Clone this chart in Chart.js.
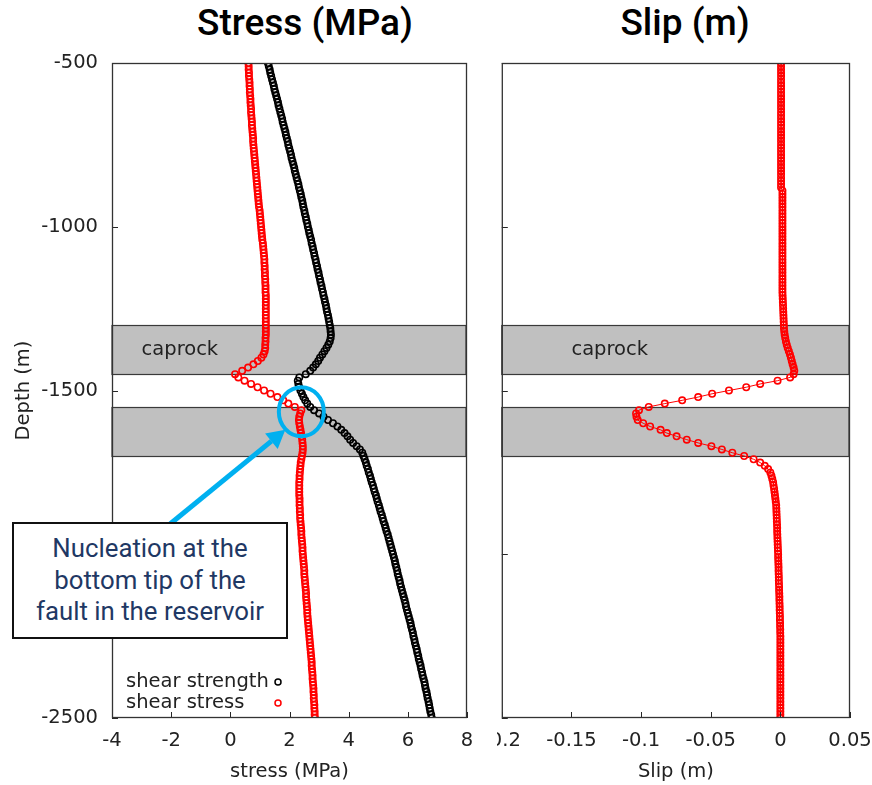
<!DOCTYPE html>
<html>
<head>
<meta charset="utf-8">
<script src="https://cdn.jsdelivr.net/npm/chart.js@4.4.1/dist/chart.umd.min.js"></script>
<style>
    body { margin: 0; width: 872px; height: 785px; position: relative; overflow: hidden; background: #fff; }
    canvas { position: absolute; top: 0; }
    #stress-chart { left: 0; }
    #slip-chart { left: 497px; }
    .heading { position: absolute; top: 4px; font: 500 37px Roboto; color: #000; transform: translateX(-50%); white-space: nowrap; line-height: 37px; }
    #note {
        position: absolute; left: 12px; top: 522px; width: 276px; height: 117px; box-sizing: border-box;
        border: 2px solid #111; background: #fff; display: flex; align-items: center; justify-content: center;
        text-align: center; font: 400 25.8px Roboto; line-height: 31.5px; color: #1f3864;
    }
</style>
</head>
<body>
<div class="heading" style="left:305px">Stress (MPa)</div>
<div class="heading" style="left:685px">Slip (m)</div>
<canvas id="stress-chart" width="480" height="785"></canvas>
<canvas id="slip-chart" width="375" height="785"></canvas>
<div id="note">Nucleation at the<br>bottom tip of the<br>fault in the reservoir</div>

<script>
// depth along the fault (m), one sample every 10 m
const depth = [
    -500, -510, -520, -530, -540, -550, -560, -570, -580, -590,
    -600, -610, -620, -630, -640, -650, -660, -670, -680, -690,
    -700, -710, -720, -730, -740, -750, -760, -770, -780, -790,
    -800, -810, -820, -830, -840, -850, -860, -870, -880, -890,
    -900, -910, -920, -930, -940, -950, -960, -970, -980, -990,
    -1000, -1010, -1020, -1030, -1040, -1050, -1060, -1070, -1080, -1090,
    -1100, -1110, -1120, -1130, -1140, -1150, -1160, -1170, -1180, -1190,
    -1200, -1210, -1220, -1230, -1240, -1250, -1260, -1270, -1280, -1290,
    -1300, -1310, -1320, -1330, -1340, -1350, -1360, -1370, -1380, -1390,
    -1400, -1410, -1420, -1430, -1440, -1450, -1460, -1470, -1480, -1490,
    -1500, -1510, -1520, -1530, -1540, -1550, -1560, -1570, -1580, -1590,
    -1600, -1610, -1620, -1630, -1640, -1650, -1660, -1670, -1680, -1690,
    -1700, -1710, -1720, -1730, -1740, -1750, -1760, -1770, -1780, -1790,
    -1800, -1810, -1820, -1830, -1840, -1850, -1860, -1870, -1880, -1890,
    -1900, -1910, -1920, -1930, -1940, -1950, -1960, -1970, -1980, -1990,
    -2000, -2010, -2020, -2030, -2040, -2050, -2060, -2070, -2080, -2090,
    -2100, -2110, -2120, -2130, -2140, -2150, -2160, -2170, -2180, -2190,
    -2200, -2210, -2220, -2230, -2240, -2250, -2260, -2270, -2280, -2290,
    -2300, -2310, -2320, -2330, -2340, -2350, -2360, -2370, -2380, -2390,
    -2400, -2410, -2420, -2430, -2440, -2450, -2460, -2470, -2480, -2490,
    -2500
];

// shear strength (MPa)
const shearStrength = [
    1.27, 1.30, 1.33, 1.35, 1.38, 1.41, 1.44, 1.47, 1.49, 1.52,
    1.55, 1.58, 1.61, 1.63, 1.66, 1.69, 1.72, 1.75, 1.77, 1.80,
    1.83, 1.86, 1.88, 1.91, 1.94, 1.96, 1.99, 2.02, 2.05, 2.07,
    2.10, 2.13, 2.16, 2.18, 2.21, 2.24, 2.27, 2.30, 2.32, 2.35,
    2.38, 2.40, 2.43, 2.45, 2.47, 2.50, 2.52, 2.55, 2.57, 2.60,
    2.62, 2.65, 2.67, 2.70, 2.73, 2.75, 2.78, 2.80, 2.83, 2.85,
    2.88, 2.90, 2.93, 2.95, 2.98, 3.00, 3.03, 3.05, 3.08, 3.10,
    3.13, 3.15, 3.18, 3.20, 3.23, 3.25, 3.27, 3.30, 3.32, 3.34,
    3.36, 3.38, 3.39, 3.40, 3.39, 3.36, 3.31, 3.25, 3.18, 3.11,
    3.03, 2.97, 2.89, 2.80, 2.70, 2.55, 2.33, 2.28, 2.30, 2.33,
    2.37, 2.42, 2.47, 2.53, 2.60, 2.70, 2.83, 3.00, 3.15, 3.30,
    3.47, 3.62, 3.75, 3.86, 3.96, 4.05, 4.15, 4.27, 4.38, 4.46,
    4.50, 4.54, 4.58, 4.61, 4.65, 4.68, 4.72, 4.75, 4.78, 4.82,
    4.85, 4.88, 4.92, 4.95, 4.98, 5.02, 5.05, 5.08, 5.12, 5.15,
    5.18, 5.22, 5.25, 5.28, 5.32, 5.35, 5.38, 5.41, 5.44, 5.47,
    5.50, 5.53, 5.56, 5.58, 5.61, 5.64, 5.66, 5.69, 5.72, 5.74,
    5.77, 5.80, 5.83, 5.86, 5.89, 5.92, 5.94, 5.97, 6.00, 6.03,
    6.06, 6.09, 6.11, 6.14, 6.17, 6.19, 6.22, 6.24, 6.27, 6.30,
    6.32, 6.35, 6.37, 6.40, 6.43, 6.45, 6.48, 6.50, 6.53, 6.56,
    6.58, 6.60, 6.63, 6.65, 6.67, 6.70, 6.72, 6.74, 6.76, 6.79,
    6.81
];

// shear stress (MPa)
const shearStress = [
    0.61, 0.62, 0.62, 0.63, 0.63, 0.64, 0.65, 0.65, 0.66, 0.66,
    0.67, 0.68, 0.68, 0.69, 0.70, 0.70, 0.71, 0.72, 0.73, 0.73,
    0.74, 0.75, 0.76, 0.77, 0.77, 0.78, 0.79, 0.80, 0.81, 0.82,
    0.83, 0.84, 0.85, 0.86, 0.87, 0.88, 0.89, 0.90, 0.91, 0.92,
    0.93, 0.94, 0.95, 0.96, 0.97, 0.99, 1.00, 1.01, 1.02, 1.03,
    1.04, 1.05, 1.06, 1.07, 1.08, 1.10, 1.11, 1.12, 1.13, 1.14,
    1.15, 1.15, 1.16, 1.16, 1.17, 1.17, 1.18, 1.18, 1.19, 1.19,
    1.19, 1.20, 1.20, 1.20, 1.20, 1.20, 1.20, 1.20, 1.20, 1.20,
    1.20, 1.20, 1.20, 1.20, 1.19, 1.19, 1.18, 1.18, 1.16, 1.12,
    1.05, 0.93, 0.78, 0.60, 0.40, 0.16, 0.27, 0.48, 0.70, 0.92,
    1.14, 1.36, 1.59, 1.79, 1.96, 2.18, 2.40, 2.36, 2.33, 2.32,
    2.33, 2.35, 2.37, 2.39, 2.41, 2.43, 2.44, 2.45, 2.45, 2.44,
    2.42, 2.40, 2.38, 2.37, 2.36, 2.35, 2.34, 2.34, 2.33, 2.33,
    2.33, 2.33, 2.33, 2.34, 2.34, 2.34, 2.35, 2.35, 2.36, 2.36,
    2.37, 2.38, 2.39, 2.40, 2.40, 2.41, 2.42, 2.43, 2.44, 2.44,
    2.45, 2.46, 2.47, 2.48, 2.49, 2.50, 2.50, 2.51, 2.52, 2.53,
    2.54, 2.55, 2.56, 2.56, 2.57, 2.58, 2.59, 2.60, 2.60, 2.61,
    2.62, 2.63, 2.64, 2.65, 2.66, 2.67, 2.68, 2.69, 2.70, 2.71,
    2.72, 2.73, 2.74, 2.75, 2.75, 2.76, 2.77, 2.78, 2.78, 2.79,
    2.80, 2.81, 2.81, 2.82, 2.82, 2.83, 2.84, 2.84, 2.85, 2.85,
    2.86
];

// slip (m)
const slip = [
    0.0005, 0.0005, 0.0005, 0.0005, 0.0005, 0.0005, 0.0005, 0.0005, 0.0005, 0.0005,
    0.0005, 0.0005, 0.0005, 0.0005, 0.0005, 0.0005, 0.0005, 0.0005, 0.0005, 0.0005,
    0.0005, 0.0005, 0.0005, 0.0005, 0.0005, 0.0005, 0.0005, 0.0005, 0.0005, 0.0005,
    0.0005, 0.0005, 0.0005, 0.0005, 0.0005, 0.0005, 0.0005, 0.0005, 0.0005, 0.0015,
    0.0015, 0.0015, 0.0015, 0.0015, 0.0015, 0.0015, 0.0015, 0.0015, 0.0015, 0.0015,
    0.0015, 0.0015, 0.0015, 0.0015, 0.0015, 0.0015, 0.0015, 0.0015, 0.0015, 0.0015,
    0.0015, 0.0015, 0.0015, 0.0015, 0.0015, 0.0015, 0.0015, 0.0015, 0.0015, 0.0015,
    0.0015, 0.0016, 0.0017, 0.0018, 0.0019, 0.0020, 0.0021, 0.0022, 0.0023, 0.0024,
    0.0025, 0.0026, 0.0028, 0.0031, 0.0035, 0.0040, 0.0046, 0.0053, 0.0061, 0.0069,
    0.0076, 0.0082, 0.0088, 0.0095, 0.0100, 0.0095, 0.0070, -0.0020, -0.0145, -0.0245,
    -0.0369, -0.0490, -0.0590, -0.0705, -0.0830, -0.0945, -0.1015, -0.1036, -0.1033, -0.1024,
    -0.0985, -0.0935, -0.0860, -0.0815, -0.0745, -0.0672, -0.0590, -0.0495, -0.0420, -0.0345,
    -0.0260, -0.0192, -0.0145, -0.0112, -0.0088, -0.0072, -0.0064, -0.0058, -0.0052, -0.0049,
    -0.0045, -0.0042, -0.0039, -0.0036, -0.0033, -0.0030, -0.0029, -0.0028, -0.0027, -0.0026,
    -0.0025, -0.0024, -0.0023, -0.0023, -0.0022, -0.0021, -0.0020, -0.0019, -0.0018, -0.0017,
    -0.0016, -0.0016, -0.0015, -0.0014, -0.0013, -0.0013, -0.0012, -0.0011, -0.0011, -0.0010,
    -0.0009, -0.0009, -0.0008, -0.0007, -0.0007, -0.0006, -0.0005, -0.0005, -0.0004, -0.0003,
    -0.0003, -0.0002, -0.0002, -0.0001, -0.0001, 0, 0, 0, 0, 0,
    0, 0, 0, 0, 0, 0, 0, 0, 0, 0,
    0, 0, 0, 0, 0, 0, 0, 0, 0, 0,
    0
];

// grey layers: caprock and reservoir
const layerTop = [-1300, -1550];
const layerBottom = [-1450, -1700];
const layerLabels = ['caprock', ''];
const labelDepth = -1376;

const stressTicks = [-4, -2, 0, 2, 4, 6, 8];
const slipTicks = [-0.2, -0.15, -0.1, -0.05, 0, 0.05];
const depthTicks = [-500, -1000, -1500, -2000, -2500];

// nucleation point marked with the blue ring
const nucleation = { x: 2.4, y: -1565 };

const ink = '#222';
const gnuFont = { family: 'DejaVu Sans', size: 19.5 };

Chart.defaults.animation = false;
Chart.defaults.font.family = 'DejaVu Sans';

function points(xs) {
    return depth.map((d, i) => ({ x: xs[i], y: d }));
}

// grey rectangles behind the curves
const layers = {
    id: 'layers',
    beforeDatasetsDraw(chart, args, opts) {
        const { ctx, chartArea: a, scales: { x, y } } = chart;
        ctx.save();
        layerTop.forEach((top, i) => {
            const y0 = Math.round(y.getPixelForValue(top)) + 0.5;
            const y1 = Math.round(y.getPixelForValue(layerBottom[i])) + 0.5;
            ctx.fillStyle = '#c0c0c0';
            ctx.fillRect(a.left, y0, a.right - a.left, y1 - y0);
            ctx.strokeStyle = '#3a3a3a';
            ctx.lineWidth = 1.2;
            ctx.strokeRect(a.left, y0, a.right - a.left - 1, y1 - y0);
            if (layerLabels[i]) {
                ctx.fillStyle = ink;
                ctx.font = `${gnuFont.size}px ${gnuFont.family}`;
                ctx.textAlign = 'left';
                ctx.textBaseline = 'middle';
                ctx.fillText(layerLabels[i], x.getPixelForValue(opts.labelX), y.getPixelForValue(labelDepth));
            }
        });
        ctx.restore();
    }
};

// gnuplot style frame with tics pointing inwards
const frame = {
    id: 'frame',
    afterDraw(chart) {
        const { ctx, chartArea: a, scales: { x, y } } = chart;
        ctx.save();
        ctx.strokeStyle = '#262626';
        ctx.lineWidth = 1;
        ctx.beginPath();
        x.ticks.forEach(t => {
            const px = Math.round(x.getPixelForValue(t.value)) + 0.5;
            ctx.moveTo(px, a.bottom);
            ctx.lineTo(px, a.bottom - 6);
        });
        y.ticks.forEach(t => {
            const py = Math.round(y.getPixelForValue(t.value)) + 0.5;
            ctx.moveTo(a.left, py);
            ctx.lineTo(a.left + 6, py);
        });
        ctx.stroke();
        ctx.strokeStyle = '#333';
        ctx.lineWidth = 1.3;
        ctx.strokeRect(a.left + 0.5, a.top + 0.5, a.right - a.left - 1, a.bottom - a.top - 1);
        ctx.restore();
    }
};

// key in the lower left corner: text first, marker after it
const key = {
    id: 'key',
    afterDatasetsDraw(chart) {
        const { ctx, chartArea: a } = chart;
        ctx.save();
        ctx.font = `${gnuFont.size}px ${gnuFont.family}`;
        ctx.textAlign = 'left';
        ctx.textBaseline = 'middle';
        chart.data.datasets.forEach((ds, i) => {
            const ty = a.bottom - 36 + i * 21;
            ctx.fillStyle = ink;
            ctx.fillText(ds.label, a.left + 14, ty);
            ctx.strokeStyle = ds.borderColor;
            ctx.lineWidth = 1.5;
            ctx.beginPath();
            ctx.arc(a.left + 166, ty, 3, 0, Math.PI * 2);
            ctx.stroke();
        });
        ctx.restore();
    }
};

// blue ring round the nucleation point and the arrow from the note
const callout = {
    id: 'callout',
    afterDraw(chart) {
        const { ctx, scales: { x, y } } = chart;
        const cx = x.getPixelForValue(nucleation.x);
        const cy = y.getPixelForValue(nucleation.y);
        ctx.save();
        ctx.strokeStyle = '#00b0f0';
        ctx.fillStyle = '#00b0f0';
        ctx.lineWidth = 4;
        ctx.beginPath();
        ctx.ellipse(cx, cy, 22.5, 24.5, 0, 0, Math.PI * 2);
        ctx.stroke();

        const tail = { x: cx - 131, y: cy + 112 };
        const tip = { x: cx - 16, y: cy + 18 };
        const ang = Math.atan2(tip.y - tail.y, tip.x - tail.x);
        const headLen = 18, headHalf = 10;
        const bx = tip.x - headLen * Math.cos(ang);
        const by = tip.y - headLen * Math.sin(ang);
        ctx.lineWidth = 5;
        ctx.beginPath();
        ctx.moveTo(tail.x, tail.y);
        ctx.lineTo(bx, by);
        ctx.stroke();
        ctx.beginPath();
        ctx.moveTo(tip.x, tip.y);
        ctx.lineTo(bx + headHalf * Math.sin(ang), by - headHalf * Math.cos(ang));
        ctx.lineTo(bx - headHalf * Math.sin(ang), by + headHalf * Math.cos(ang));
        ctx.closePath();
        ctx.fill();
        ctx.restore();
    }
};

function depthAxis(showLabels, width) {
    return {
        type: 'linear',
        min: -2500,
        max: -500,
        afterBuildTicks: s => { s.ticks = depthTicks.map(v => ({ value: v })); },
        ticks: { display: showLabels, color: ink, font: gnuFont, padding: 14, callback: v => String(v) },
        grid: { display: false, drawTicks: false },
        border: { display: false },
        title: { display: showLabels, text: 'Depth (m)', color: ink, font: gnuFont, padding: { top: 12, bottom: 0 } },
        afterFit: s => { s.width = width; }
    };
}

function valueAxis(min, max, tickValues, label) {
    return {
        type: 'linear',
        min: min,
        max: max,
        afterBuildTicks: s => { s.ticks = tickValues.map(v => ({ value: v })); },
        ticks: { color: ink, font: gnuFont, padding: 11, autoSkip: false, maxRotation: 0, callback: v => String(Math.round(v * 100) / 100) },
        grid: { display: false, drawTicks: false },
        border: { display: false },
        title: { display: true, text: label, color: ink, font: gnuFont, padding: { top: 4, bottom: 1 } },
        afterFit: s => { s.height = 67; s.paddingLeft = 0; s.paddingRight = 0; }
    };
}

const marker = { pointStyle: 'circle', pointRadius: 3.2, pointBorderWidth: 1.6, pointBackgroundColor: 'rgba(0,0,0,0)', pointHoverRadius: 3.2 };

document.addEventListener("DOMContentLoaded", () => {
    const stressChart = document.getElementById('stress-chart');
    new Chart(stressChart, {
        type: 'scatter',
        data: {
            datasets: [
                {
                    label: 'shear strength',
                    data: points(shearStrength),
                    borderColor: '#000000',
                    pointBorderColor: '#000000',
                    order: 2,
                    ...marker
                },
                {
                    label: 'shear stress',
                    data: points(shearStress),
                    borderColor: '#ff0000',
                    pointBorderColor: '#ff0000',
                    order: 1,
                    ...marker
                }
            ]
        },
        options: {
            responsive: false,
            layout: { padding: { top: 63, right: 13, bottom: 0, left: 0 } },
            plugins: { legend: { display: false }, tooltip: { enabled: false }, layers: { labelX: -3 } },
            scales: {
                x: valueAxis(-4, 8, stressTicks, 'stress (MPa)'),
                y: depthAxis(true, 112)
            }
        },
        plugins: [layers, frame, key, callout]
    });

    const slipChart = document.getElementById('slip-chart');
    new Chart(slipChart, {
        type: 'scatter',
        data: {
            datasets: [
                {
                    label: 'slip',
                    data: points(slip),
                    borderColor: '#ff0000',
                    pointBorderColor: '#ff0000',
                    borderWidth: 1,
                    showLine: true,
                    ...marker
                }
            ]
        },
        options: {
            responsive: false,
            layout: { padding: { top: 63, right: 22, bottom: 0, left: 0 } },
            plugins: { legend: { display: false }, tooltip: { enabled: false }, layers: { labelX: -0.15 } },
            scales: {
                x: valueAxis(-0.2, 0.05, slipTicks, 'Slip (m)'),
                y: depthAxis(false, 3)
            }
        },
        plugins: [layers, frame]
    });
})
</script>
</body>
</html>
